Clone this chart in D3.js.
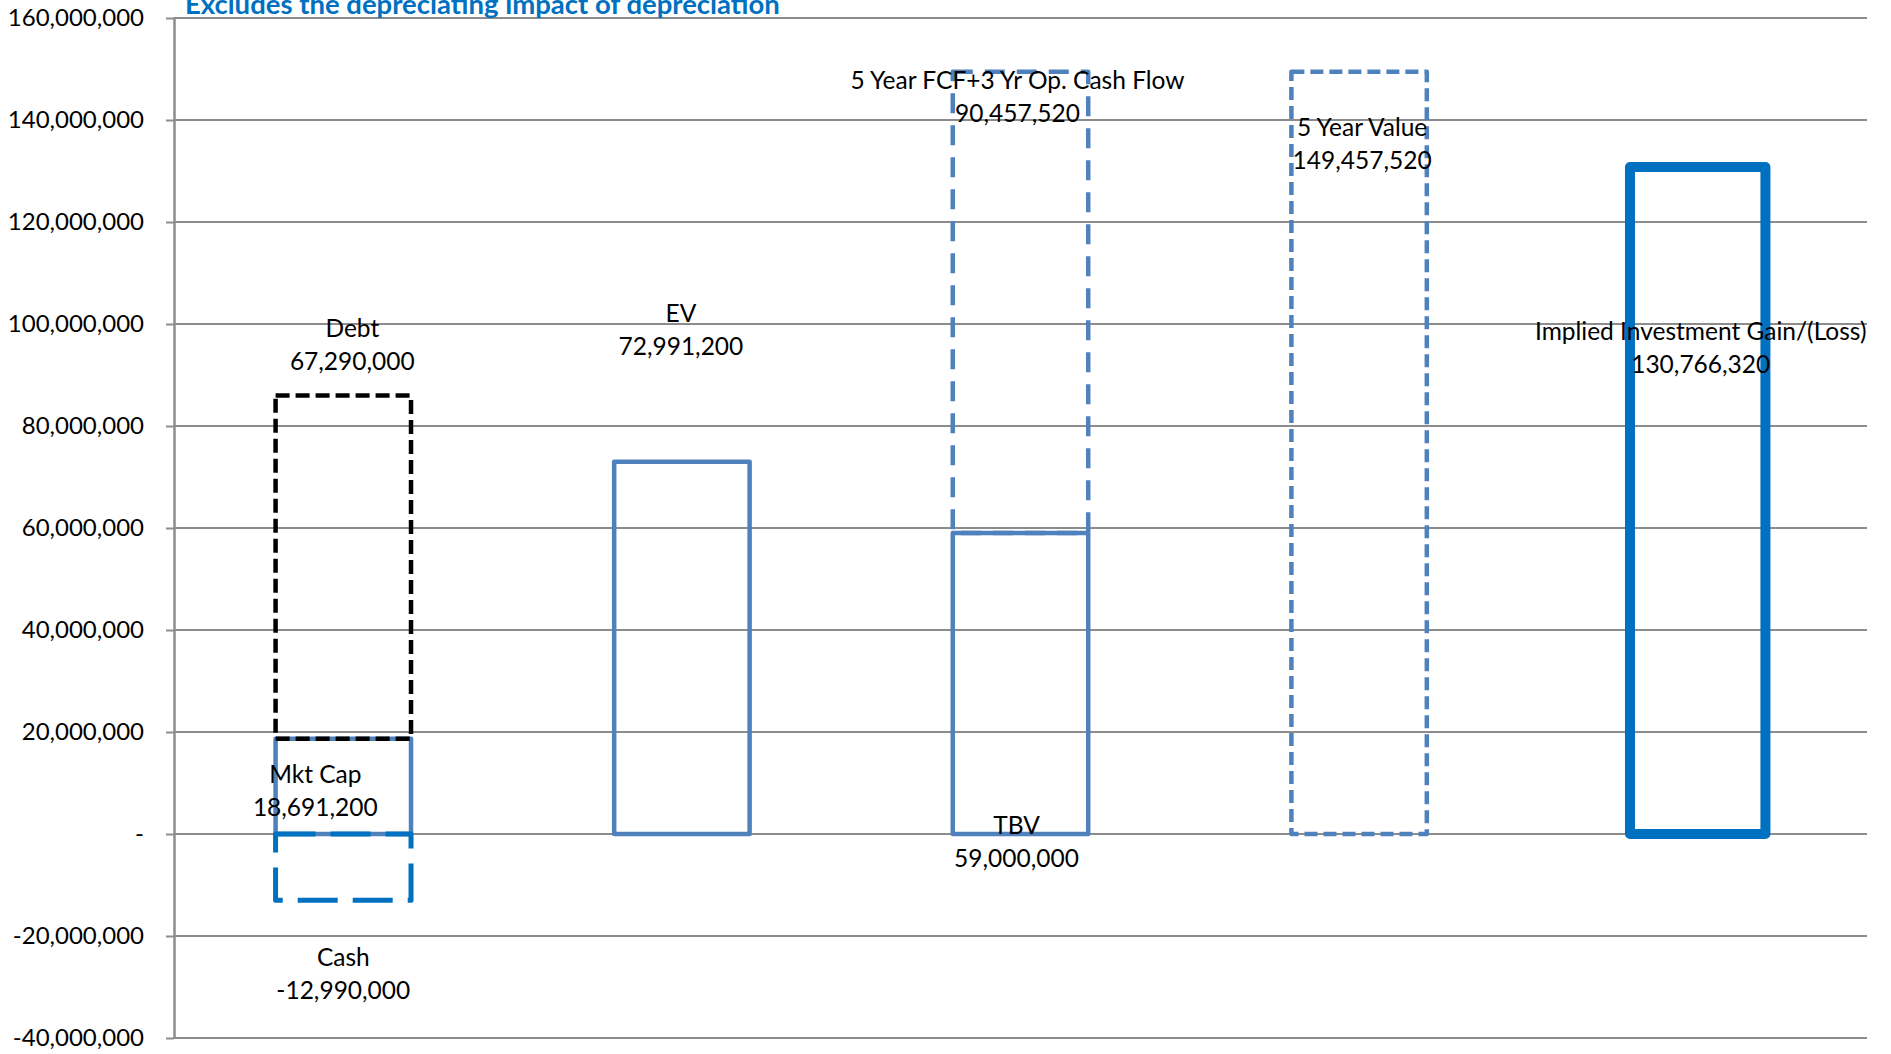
<!DOCTYPE html>
<html>
<head>
<meta charset="utf-8">
<script src="https://cdn.jsdelivr.net/npm/d3@7"></script>
<style>
  html, body { margin: 0; padding: 0; background: #fff; }
  svg { display: block; }
  text { font-family: Lato, "Open Sans", sans-serif; }
</style>
</head>
<body>
<svg id="chart" width="1891" height="1054"></svg>
<script>
// ---------------- DATA ----------------
const title = "Excludes the depreciating impact of depreciation";
const categories = ["Equity", "EV", "TBV + Cash Flow", "5 Year Value", "Gain"];
const segLabels = ["Mkt Cap", "Debt", "Cash", "EV", "TBV",
  "5 Year FCF+3 Yr Op. Cash Flow", "5 Year Value", "Implied Investment Gain/(Loss)"];
const segValues = [18691200, 67290000, -12990000, 72991200, 59000000, 90457520, 149457520, 130766320];
const segCategory = [0, 0, 0, 1, 2, 2, 3, 4];
const yTicks = [-40000000, -20000000, 0, 20000000, 40000000, 60000000, 80000000,
  100000000, 120000000, 140000000, 160000000];

// ---------------- STYLES / LAYOUT ----------------
const C_MED = "#4F81BD", C_BLUE = "#0070C0";
const segStyles = [
  { stroke: C_MED,  width: 4.5, dash: null },     // Mkt Cap
  { stroke: "#000", width: 4.5, dash: "14,6" },   // Debt
  { stroke: C_BLUE, width: 5,   dash: "40,15" },  // Cash
  { stroke: C_MED,  width: 4.5, dash: null },     // EV
  { stroke: C_MED,  width: 4.5, dash: null },     // TBV
  { stroke: C_MED,  width: 4.5, dash: "20,12" },  // FCF
  { stroke: C_MED,  width: 4.5, dash: "13,6" },   // 5 Year Value
  { stroke: C_BLUE, width: 10,  dash: null }      // Implied
];
// label block centre offsets from bar centre (px) and first-line y (px from top of svg)
const labelLayout = [
  { dx: -28, y: 774 }, { dx: 9, y: 328 }, { dx: 0, y: 957 }, { dx: -1, y: 313 },
  { dx: -4, y: 825 }, { dx: -3, y: 80 }, { dx: 3, y: 127 }, { dx: 3, y: 331 }
];
const lineGap = 33;
const margin = { left: 174, right: 24, top: 18, bottom: 16 };
const W = 1891, H = 1054;

const svg = d3.select("#chart");

const x = d3.scaleBand().domain(categories)
  .range([margin.left, W - margin.right]).paddingInner(0).paddingOuter(0);
const y = d3.scaleLinear().domain([-40000000, 160000000])
  .range([H - margin.bottom, margin.top]);
const barW = x.bandwidth() * 0.4;

// gridlines
svg.append("g").selectAll("line").data(yTicks).join("line")
  .attr("x1", margin.left).attr("x2", W - margin.right)
  .attr("y1", d => y(d)).attr("y2", d => y(d))
  .attr("stroke", "#8c8c8c").attr("stroke-width", 2);

// axis
const fmt0 = d3.format(",");
const fmt = v => fmt0(v).replace("\u2212", "-");
const axis = d3.axisLeft(y).tickValues(yTicks).tickSize(8).tickSizeOuter(0)
  .tickPadding(22)
  .tickFormat(d => d === 0 ? "-" : fmt(d));
const ag = svg.append("g").attr("transform", `translate(${margin.left},0)`).call(axis);
ag.select(".domain").attr("stroke", "#8c8c8c").attr("stroke-width", 2.5);
ag.selectAll(".tick line").attr("stroke", "#8c8c8c").attr("stroke-width", 2);
ag.selectAll(".tick text").attr("fill", "#000")
  .style("font-family", "Lato, sans-serif").style("font-size", "24px");

// stacking (positive values stack upward, negative downward)
const posAcc = {}, negAcc = {};
const segs = segValues.map((v, i) => {
  const c = categories[segCategory[i]];
  let y0, y1;
  if (v >= 0) { y0 = posAcc[c] || 0; y1 = y0 + v; posAcc[c] = y1; }
  else { y0 = negAcc[c] || 0; y1 = y0 + v; negAcc[c] = y1; }
  return { i, c, v, y0, y1, label: segLabels[i], style: segStyles[i] };
});

// bars
svg.append("g").selectAll("rect").data(segs).join("rect")
  .attr("x", d => x(d.c) + (x.bandwidth() - barW) / 2)
  .attr("width", barW)
  .attr("y", d => y(Math.max(d.y0, d.y1)))
  .attr("height", d => Math.abs(y(d.y0) - y(d.y1)))
  .attr("fill", "none")
  .attr("stroke", d => d.style.stroke)
  .attr("stroke-width", d => d.style.width)
  .attr("stroke-dasharray", d => d.style.dash)
  .attr("stroke-linejoin", "round");

// labels
const lg = svg.append("g");
segs.forEach(d => {
  const L = labelLayout[d.i];
  const cx = x(d.c) + x.bandwidth() / 2 + L.dx;
  const t = lg.append("text").attr("text-anchor", "middle")
    .attr("fill", "#000").style("font-size", "24.5px");
  t.append("tspan").attr("x", cx).attr("y", L.y).attr("dy", "0.35em").text(d.label);
  t.append("tspan").attr("x", cx).attr("y", L.y + lineGap).attr("dy", "0.35em").text(fmt(d.v));
});

// title
svg.append("text").attr("x", 185).attr("y", 14)
  .attr("fill", C_BLUE).style("font-weight", "bold").style("font-size", "27.5px")
  .text(title);
</script>
</body>
</html>
